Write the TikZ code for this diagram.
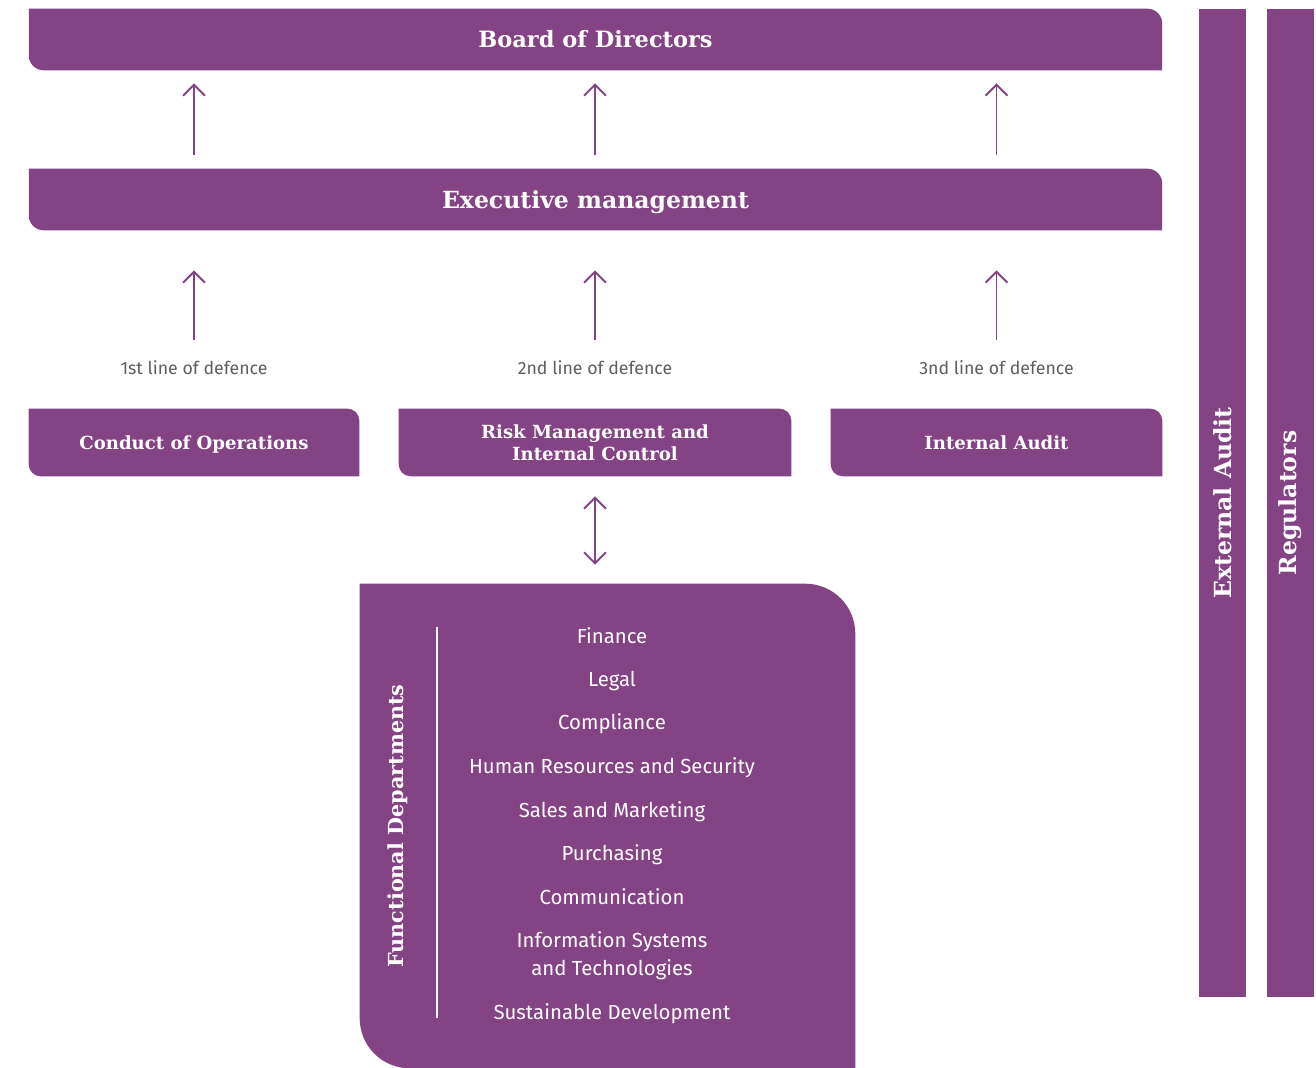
\documentclass[tikz,border=0pt]{standalone}
\usepackage{fontspec}
\setmainfont{Fira Sans}
\newfontfamily\slabfont{DejaVu Serif}
\usepackage{xcolor}
\usepackage{tikz}
\usetikzlibrary{arrows.meta,backgrounds}
\definecolor{grape}{HTML}{834385}
\definecolor{ash}{HTML}{5E5E5E}

\newcommand{\headfont}[2][1.2]{\slabfont\bfseries\fontsize{#2}{#1\dimexpr #2pt\relax}\selectfont}
\newcommand{\leaf}[2]{%
  \fill[grape] (#1.north west) -- ([xshift=-#2]#1.north east)
    arc[start angle=90,end angle=0,radius=#2] -- (#1.south east)
    -- ([xshift=#2]#1.south west)
    arc[start angle=270,end angle=180,radius=#2] -- cycle;}
\tikzset{
  tile/.style={inner sep=0pt,text=white,align=center},
  band/.style={tile,minimum width=22.66cm,minimum height=1.22cm},
  pillar/.style={tile,fill=grape,rotate=90,minimum width=19.76cm,minimum height=0.94cm,font=\headfont{13.4}},
  unit/.style={tile,minimum height=1.34cm,font=\headfont{10.3}},
  defence/.style={text=ash,inner sep=0pt,font=\fontsize{10.1}{12}\selectfont},
  dept/.style={text=white,align=center,inner sep=0pt,font=\fontsize{11.6}{15.9}\selectfont},
  rise/.style={draw=grape,line width=1.1pt,-{Straight Barb[length=0.22cm,width=0.44cm]}},
  twoway/.style={draw=grape,line width=1.1pt,{Straight Barb[length=0.22cm,width=0.44cm]}-{Straight Barb[length=0.22cm,width=0.44cm]}},
}

\begin{document}
\begin{tikzpicture}[x=0.02cm,y=0.02cm]
\useasboundingbox (0,0) rectangle (1316,1068);
% governance bands
\node[band,font=\headfont{12.8}] (board) at (595.5,1028.5) {Board of Directors};
\node[band,font=\headfont{13.4},text depth=0pt] (exec) at (595.5,868.5) {Executive management};
% the three lines of defence
\node[unit,minimum width=6.6cm,text depth=0pt] (ops) at (194,625.5) {Conduct of Operations};
\node[unit,minimum width=7.84cm] (risk) at (595,625.5) {Risk Management and\\Internal Control};
\node[unit,minimum width=6.62cm] (audit) at (996.5,625.5) {Internal Audit};
\foreach \n/\t in {ops/1st,risk/2nd,audit/3nd}
  \node[defence] (\n-lbl) at ([yshift=0.82cm]\n.north) {\t\ line of defence};
\foreach \n in {ops,risk,audit}{
  \draw[rise] ([yshift=0.28cm]exec.north -| \n.north) -- ([yshift=-0.26cm]board.south -| \n.north);
  \draw[rise] ([yshift=0.4cm]\n-lbl.north) -- ([yshift=-0.8cm]exec.south -| \n-lbl.north);
}
% functional departments
\node[tile,minimum width=9.9cm,minimum height=9.68cm] (func) at (607.5,242) {};
\node[tile,rotate=90,font=\headfont{11.8}] (func-title) at (398,242) {Functional Departments};
\draw[white,line width=1.1pt] (437,441) -- (437,50);
\foreach \d/\y [count=\i] in {Finance/432,Legal/387,Compliance/344,Human Resources and Security/300,
    Sales and Marketing/256,Purchasing/213,Communication/171,{Information Systems\\and Technologies}/112,
    Sustainable Development/54}
  \node[dept] (dept-\i) at (612,\y) {\d};
\draw[twoway] ([yshift=-0.4cm]risk.south) -- ([yshift=0.38cm]func.north -| risk.south);
% outside bodies
\node[pillar] (ext) at (1222.5,565) {External Audit};
\node[pillar] (reg) at (1290.5,565) {Regulators};
\begin{scope}[on background layer]
  \leaf{board}{0.3cm}
  \leaf{exec}{0.3cm}
  \foreach \n in {ops,risk,audit}{\leaf{\n}{0.24cm}}
  \leaf{func}{1cm}
\end{scope}
\end{tikzpicture}
\end{document}
